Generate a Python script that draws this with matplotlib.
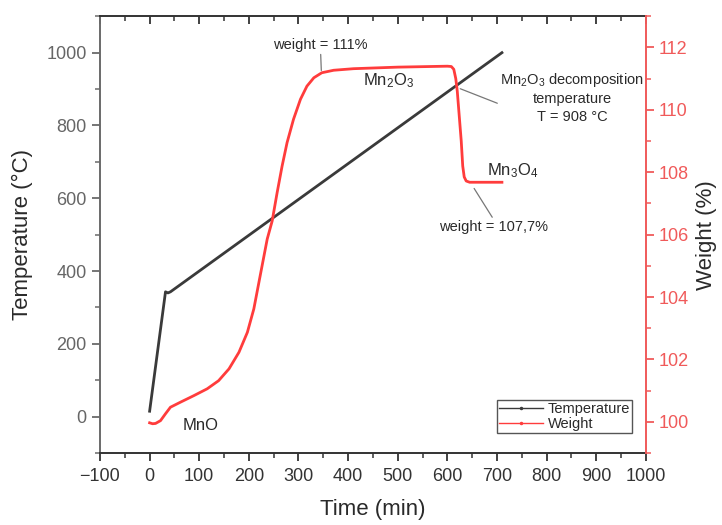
import matplotlib
matplotlib.use("Agg")
import matplotlib.pyplot as plt
from matplotlib.lines import Line2D
from matplotlib.ticker import MultipleLocator

plt.rcParams['font.family'] = ['Liberation Sans', 'DejaVu Sans']
plt.rcParams['mathtext.fontset'] = 'custom'
plt.rcParams['mathtext.rm'] = 'Liberation Sans'
plt.rcParams['mathtext.it'] = 'Liberation Sans'

# Temperature program
temp_time = [0, 32, 37, 42, 710]
temp_values = [15, 343, 340, 343, 1000]

# Weight (TGA) curve
weight_time = [0, 6, 12, 22, 32, 42, 62, 89, 116, 139, 160, 180, 197, 210, 223,
               237, 247, 257, 267, 277, 290, 304, 317, 331, 347, 371, 411, 500,
               600, 608, 613, 617, 620, 624, 628, 631, 634, 638, 645, 710]
weight_values = [99.97, 99.94, 99.95, 100.04, 100.26, 100.47, 100.63, 100.84,
                 101.06, 101.32, 101.70, 102.23, 102.87, 103.62, 104.70, 105.86,
                 106.44, 107.35, 108.20, 108.95, 109.70, 110.34, 110.76, 111.03,
                 111.19, 111.27, 111.32, 111.37, 111.40, 111.39, 111.30, 111.00,
                 110.60, 109.80, 109.00, 108.20, 107.85, 107.72, 107.68, 107.68]

x_ticks = list(range(-100, 1001, 100))
temp_ticks = [0, 200, 400, 600, 800, 1000]
weight_ticks = [100, 102, 104, 106, 108, 110, 112]

BLACK = '#3a3a3a'
RED = '#ff3c3c'
RED_AX = '#f05a5a'
GRAY = '#6a6a6a'
TXT = '#2a2a2a'

fig = plt.figure(figsize=(7.22, 5.25), dpi=100)
ax = fig.add_axes([0.1385, 0.137, 0.756, 0.832])
ax2 = ax.twinx()

ax.plot(temp_time, temp_values, color=BLACK, lw=2.0, zorder=3)
ax2.plot(weight_time, weight_values, color=RED, lw=2.0, zorder=3,
         solid_joinstyle='round')

ax.set_xlim(-100, 1000)
ax.set_ylim(-100, 1100)
ax2.set_ylim(99, 113)

ax.set_xticks(x_ticks)
ax.set_xticklabels([str(v).replace('-', '\u2212') for v in x_ticks])
ax.xaxis.set_minor_locator(MultipleLocator(50))
ax.set_yticks(temp_ticks)
ax.yaxis.set_minor_locator(MultipleLocator(100))
ax2.set_yticks(weight_ticks)
ax2.yaxis.set_minor_locator(MultipleLocator(1))

for s in ['top', 'bottom']:
    ax.spines[s].set_color('#333333')
    ax.spines[s].set_linewidth(1.4)
ax.spines['left'].set_color(GRAY)
ax.spines['left'].set_linewidth(1.4)
ax2.spines['right'].set_color(RED_AX)
ax2.spines['right'].set_linewidth(1.4)
ax2.spines['left'].set_visible(False)
ax2.spines['top'].set_visible(False)
ax2.spines['bottom'].set_visible(False)
ax.spines['right'].set_visible(False)

ax.tick_params(axis='x', which='both', bottom=True, top=False, direction='out',
               labelsize=13, colors='#333333', labelcolor='#333333', pad=5)
ax.tick_params(axis='x', which='major', length=6, width=1.3)
ax.tick_params(axis='x', which='minor', length=3.5, width=1.1)
ax.tick_params(axis='y', which='both', direction='out', colors=GRAY,
               labelcolor='#666666', labelsize=13)
ax.tick_params(axis='y', which='major', length=6, width=1.3)
ax.tick_params(axis='y', which='minor', length=3.5, width=1.1)
ax2.tick_params(axis='y', which='both', direction='out', colors=RED_AX,
                labelcolor=RED_AX, labelsize=13)
ax2.tick_params(axis='y', which='major', length=6, width=1.3)
ax2.tick_params(axis='y', which='minor', length=3.5, width=1.1)

# top ticks pointing inward
secx = ax.secondary_xaxis('top')
secx.set_xticks(x_ticks)
secx.xaxis.set_minor_locator(MultipleLocator(50))
secx.tick_params(axis='x', which='both', direction='in', labeltop=False,
                 colors='#333333')
secx.tick_params(axis='x', which='major', length=6, width=1.3)
secx.tick_params(axis='x', which='minor', length=3.5, width=1.1)
secx.spines['top'].set_visible(False)

ax.set_xlabel('Time (min)', fontsize=16, color=TXT, labelpad=10)
ax.set_ylabel('Temperature (°C)', fontsize=16, color=TXT, labelpad=10)
ax2.set_ylabel('Weight (%)', fontsize=16, color=TXT, labelpad=5)

arrow = dict(arrowstyle='-', color='#777777', lw=0.9, shrinkA=0, shrinkB=0)
ax.annotate('weight = 111%', xy=(346, 951), xytext=(344, 1022),
            ha='center', va='center', fontsize=10.5, color=TXT,
            arrowprops=arrow)
ax.text(481, 923, 'Mn$_2$O$_3$', ha='center', va='center', fontsize=12, color=TXT)
ax.annotate('Mn$_2$O$_3$ decomposition\ntemperature\nT = 908 °C',
            xy=(626, 901), xytext=(851, 877), ha='center', va='center',
            fontsize=10.5, color=TXT, linespacing=1.3,
            arrowprops=dict(arrowstyle='-', color='#777777', lw=0.9,
                            shrinkA=0, shrinkB=0, relpos=(0.27, 0.08)))
ax.text(680, 677, 'Mn$_3$O$_4$', ha='left', va='center', fontsize=12, color=TXT)
ax.annotate('weight = 107,7%', xy=(654, 627), xytext=(694, 521),
            ha='center', va='center', fontsize=10.5, color=TXT,
            arrowprops=dict(arrowstyle='-', color='#777777', lw=0.9,
                            shrinkA=0, shrinkB=0, relpos=(0.5, 1.0)))
ax.text(103, -25, 'MnO', ha='center', va='center', fontsize=12, color=TXT)

handles = [Line2D([], [], color=BLACK, lw=1.0, marker='.', markersize=3),
           Line2D([], [], color=RED, lw=1.0, marker='.', markersize=3)]
leg = ax2.legend(handles, ['Temperature', 'Weight'], loc='lower right',
                 bbox_to_anchor=(0.975, 0.045), fontsize=10.5, frameon=True,
                 fancybox=False, edgecolor='#555555', framealpha=1,
                 handlelength=3.0, borderpad=0.15, labelspacing=0.1,
                 handletextpad=0.3, borderaxespad=0, numpoints=1)
leg.get_frame().set_linewidth(1.0)
for t in leg.get_texts():
    t.set_color(TXT)

fig.savefig('out.png', dpi=100)
